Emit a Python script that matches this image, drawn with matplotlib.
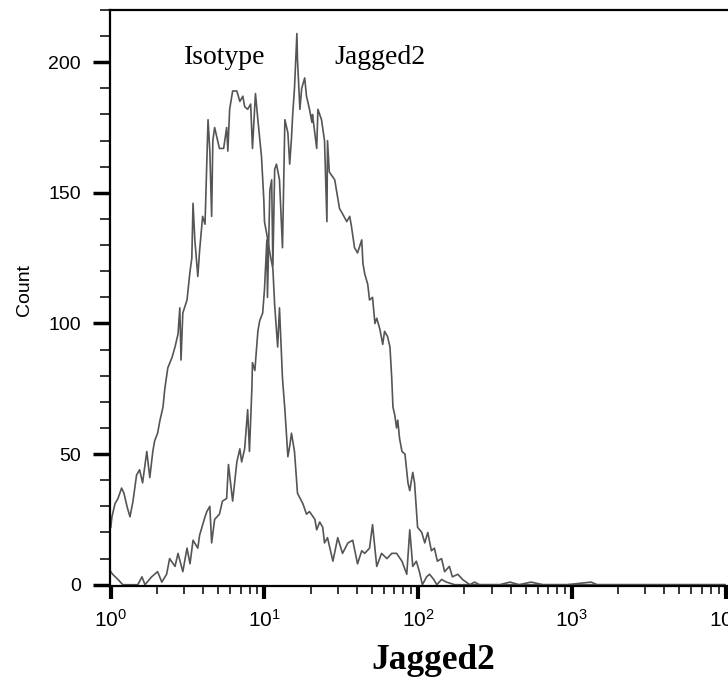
import numpy as np
import matplotlib
matplotlib.use('Agg')
import matplotlib.pyplot as plt
from matplotlib.ticker import LogLocator, MultipleLocator, NullFormatter

# flow histogram, channels on a 1024-channel / 4-decade log scale
iso_ch = [0, 2, 7, 12, 18, 22, 27, 32, 37, 43,
          48, 53, 60, 65, 70, 73, 78, 82, 87, 90,
          95, 102, 107, 112, 115, 117, 120, 127, 132, 135,
          137, 140, 145, 148, 153, 157, 162, 165, 168, 170,
          173, 178, 181, 188, 193, 195, 198, 203, 210, 215,
          220, 223, 228, 233, 236, 241, 245, 248, 251, 255,
          256, 260, 265, 270, 273, 278, 281, 286, 290, 295,
          298, 301, 306, 311, 320, 326, 331, 340, 343, 348,
          353, 356, 361, 370, 378, 386, 395, 403, 411, 418,
          423, 431, 436, 443, 451, 460, 468, 476, 485, 493,
          498, 503, 509, 514, 519, 526, 531, 538, 543, 551,
          559, 573, 589, 620, 700, 800, 1023]
iso_count = [22, 26, 31, 33, 37, 35, 30, 26, 32, 42,
             44, 39, 51, 41, 51, 55, 58, 63, 68, 75,
             83, 87, 91, 96, 106, 86, 104, 109, 120, 125,
             146, 132, 118, 128, 141, 138, 178, 166, 141, 170,
             175, 170, 167, 167, 175, 166, 182, 189, 189, 185,
             187, 183, 182, 184, 167, 188, 178, 171, 164, 147,
             139, 134, 127, 121, 107, 91, 106, 79, 67, 49,
             53, 58, 51, 35, 31, 27, 28, 25, 21, 24,
             22, 16, 18, 9, 18, 12, 16, 17, 8, 13,
             12, 14, 23, 7, 12, 10, 12, 12, 9, 4,
             21, 7, 9, 5, 0, 3, 4, 2, 0, 2,
             1, 0, 0, 0, 0, 0, 0]

jag_ch = [0, 3, 12, 20, 35, 45, 52, 57, 68, 78,
          85, 93, 98, 107, 112, 120, 127, 132, 137, 145,
          148, 157, 160, 165, 168, 173, 181, 186, 193, 196,
          203, 210, 215, 218, 223, 228, 231, 235, 236, 240,
          245, 248, 253, 256, 260, 261, 265, 268, 270, 273,
          276, 281, 286, 290, 295, 298, 301, 303, 306, 310,
          311, 315, 318, 323, 326, 331, 335, 336, 343, 345,
          351, 356, 360, 361, 364, 373, 381, 386, 393, 398,
          401, 406, 411, 418, 420, 423, 428, 431, 436, 440,
          443, 448, 453, 456, 461, 465, 468, 470, 473, 476,
          478, 481, 485, 490, 495, 498, 503, 506, 511, 518,
          523, 528, 534, 539, 544, 551, 556, 564, 569, 578,
          586, 598, 606, 614, 631, 648, 665, 680, 700, 720,
          760, 800, 810, 900, 1023]
jag_count = [5, 4, 2, 0, 0, 0, 3, 0, 3, 5,
             1, 4, 10, 7, 12, 5, 14, 8, 17, 14,
             19, 26, 28, 30, 16, 25, 27, 32, 33, 46,
             32, 47, 52, 47, 52, 67, 51, 75, 85, 82,
             97, 101, 104, 113, 132, 110, 151, 155, 122, 159,
             161, 155, 129, 178, 173, 161, 171, 180, 190, 211,
             201, 182, 190, 194, 187, 182, 177, 180, 167, 182,
             178, 170, 139, 170, 158, 155, 144, 142, 139, 141,
             137, 129, 127, 132, 123, 119, 115, 109, 110, 100,
             102, 98, 92, 97, 95, 91, 79, 68, 65, 60,
             63, 56, 51, 50, 39, 36, 43, 39, 22, 20,
             16, 20, 13, 14, 9, 10, 5, 7, 3, 4,
             2, 0, 1, 0, 0, 0, 1, 0, 1, 0,
             0, 1, 0, 0, 0]

plt.rcParams['font.family'] = 'Liberation Sans'
plt.rcParams['mathtext.fontset'] = 'custom'
plt.rcParams['mathtext.rm'] = 'Liberation Sans'
plt.rcParams['mathtext.it'] = 'Liberation Sans:italic'
plt.rcParams['mathtext.bf'] = 'Liberation Sans:bold'

fig = plt.figure(figsize=(7.28, 6.90), dpi=100)
ax = fig.add_axes([0.1511, 0.1507, 0.854, 0.8348])

iso_x = 10 ** (np.array(iso_ch) / 256)
jag_x = 10 ** (np.array(jag_ch) / 256)
ax.plot(iso_x, iso_count, color='#555555', lw=1.2)
ax.plot(jag_x, jag_count, color='#555555', lw=1.2)

ax.set_xscale('log')
ax.set_xlim(10 ** -0.005, 10 ** 4.04)
ax.set_ylim(-0.5, 220)
ax.xaxis.set_major_locator(LogLocator(base=10, numticks=10))
ax.xaxis.set_minor_locator(LogLocator(base=10, subs=np.arange(2, 10), numticks=20))
ax.xaxis.set_minor_formatter(NullFormatter())
ax.yaxis.set_major_locator(MultipleLocator(50))
ax.yaxis.set_minor_locator(MultipleLocator(10))

ax.tick_params(axis='y', which='major', length=12, width=2.5, labelsize=14, pad=9)
ax.tick_params(axis='y', which='minor', length=7, width=1.1)
ax.tick_params(axis='x', which='major', length=9.5, width=3, labelsize=15, pad=7)
ax.tick_params(axis='x', which='minor', length=6, width=1.1)

for side in ['top', 'left', 'bottom']:
    ax.spines[side].set_linewidth(1.6)
ax.spines['right'].set_visible(False)

ax.set_ylabel('Count', fontsize=14)
ax.yaxis.set_label_coords(-0.137, 0.514)
ax.yaxis.label.set_va('center')

ax.set_xlabel('Jagged2', fontsize=25.5, fontweight='bold', family='Liberation Serif')
ax.xaxis.set_label_coords(0.52, -0.10)

ax.text(5.5, 202, 'Isotype', fontsize=20, family='Liberation Serif', ha='center', va='center')
ax.text(56, 202, 'Jagged2', fontsize=20, family='Liberation Serif', ha='center', va='center')

fig.savefig('out.png', dpi=100)
